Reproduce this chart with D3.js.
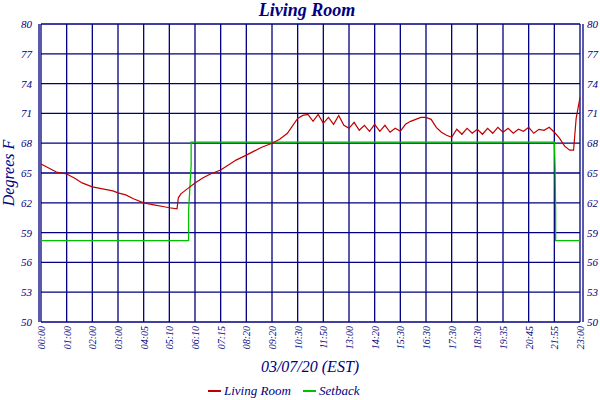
<!DOCTYPE html>
<html><head><meta charset="utf-8">
<script src="https://cdn.jsdelivr.net/npm/d3@7"></script>
<style>body{margin:0;background:#fff}text{font-family:"Liberation Serif",serif;font-style:italic;fill:#000080}</style>
</head><body><div id="chart"></div>
<script>
// x tick labels, one per grid interval
const timeLabels = ["00:00","01:00","02:00","03:00","04:05","05:10","06:10","07:15","08:20","09:20","10:30",
  "11:50","13:00","14:20","15:30","16:30","17:30","18:30","19:35","20:45","21:55","23:00"];
const yTicks = [50,53,56,59,62,65,68,71,74,77,80];

// Living Room temperature, x in grid intervals
const roomX = [0,0.3,0.6,1,1.3,1.6,2,2.4,2.8,3,3.3,3.6,4,4.4,4.8,5,5.3,5.35,5.45,5.7,6,6.3,6.6,7,7.3,7.6,8,8.3,8.6,9,9.3,9.6,
  10,10.2,10.4,10.6,10.8,11,11.2,11.4,11.6,11.8,12,12.2,12.4,12.6,12.8,13,13.2,13.4,13.6,13.8,
  14,14.2,14.4,14.6,14.8,15,15.2,15.4,15.6,15.8,16,16.2,16.4,16.6,16.8,17,17.2,17.4,17.6,17.8,
  18,18.2,18.4,18.6,18.8,19,19.2,19.4,19.6,19.8,20,20.2,20.4,20.6,20.75,20.85,21];
const roomT = [65.9,65.5,65.1,64.9,64.5,64.0,63.6,63.4,63.2,63.0,62.8,62.4,62.0,61.8,61.6,61.5,61.4,62.5,62.9,63.4,64.0,64.5,64.9,65.3,65.8,66.3,66.8,67.2,67.6,68.0,68.4,69.0,
  70.5,70.8,70.9,70.2,70.9,70.0,70.6,69.9,70.8,69.8,69.5,70.1,69.3,69.8,69.2,69.9,69.2,69.8,69.1,69.5,
  69.2,69.9,70.2,70.4,70.6,70.6,70.4,69.6,69.1,68.8,68.6,69.4,68.9,69.5,69.0,69.4,68.9,69.5,69.0,69.6,
  69.1,69.5,69.0,69.4,69.2,69.6,69.0,69.4,69.3,69.6,69.1,68.5,67.7,67.3,67.3,70.5,72.6];

// Setback, stepped
const setX = [0,5.75,5.75,5.85,5.85,20,20.03,20.05,20.05,21];
const setT = [58.2,58.2,61.2,65.8,68.1,68.1,65.5,61.0,58.2,58.2];

const W = 600, H = 400, m = {l:41, r:20, t:24, b:78};
const svg = d3.select("#chart").append("svg").attr("width", W).attr("height", H);
const x = d3.scaleLinear().domain([0, timeLabels.length - 1]).range([m.l, W - m.r]);
const y = d3.scaleLinear().domain([50, 80]).range([H - m.b, m.t]);
const navy = "#000080";

svg.append("text").attr("x", 307).attr("y", 16).attr("text-anchor", "middle")
  .style("font-size", "18px").style("font-weight", "bold").text("Living Room");

const grid = svg.append("g").attr("stroke", navy).attr("stroke-width", 1.3);
timeLabels.forEach((d, i) => grid.append("line").attr("x1", x(i)).attr("x2", x(i)).attr("y1", y(80)).attr("y2", y(50)));
yTicks.forEach(v => grid.append("line").attr("x1", x(0)).attr("x2", x(21)).attr("y1", y(v)).attr("y2", y(v)));
grid.append("line").attr("x1", x(0) - 2).attr("x2", x(0) - 2).attr("y1", y(80)).attr("y2", y(50));
grid.append("line").attr("x1", x(21) + 3).attr("x2", x(21) + 3).attr("y1", y(80)).attr("y2", y(50));

yTicks.forEach(v => {
  svg.append("text").attr("x", 32).attr("y", y(v) + 4).attr("text-anchor", "end").style("font-size", "11px").text(v);
  svg.append("text").attr("x", 587).attr("y", y(v) + 4).style("font-size", "11px").text(v);
});
timeLabels.forEach((d, i) => {
  svg.append("text").attr("transform", `translate(${x(i) + 4},${y(50) + 4}) rotate(-90)`)
    .attr("text-anchor", "end").style("font-size", "10px").text(d);
});

const line = d3.line().x(d => x(d[0])).y(d => y(d[1]));
svg.append("path").datum(setX.map((v, i) => [v, setT[i]])).attr("d", line)
  .attr("fill", "none").attr("stroke", "#00c000").attr("stroke-width", 1.3);
svg.append("path").datum(roomX.map((v, i) => [v, roomT[i]])).attr("d", line)
  .attr("fill", "none").attr("stroke", "#c00000").attr("stroke-width", 1.2);

svg.append("text").attr("transform", "translate(14,173) rotate(-90)").attr("text-anchor", "middle")
  .style("font-size", "16px").text("Degrees F");
svg.append("text").attr("x", 310).attr("y", 372).attr("text-anchor", "middle")
  .style("font-size", "16px").text("03/07/20 (EST)");

const leg = [["Living Room", "#c00000", 208], ["Setback", "#00c000", 303]];
leg.forEach(([t, c, lx]) => {
  svg.append("line").attr("x1", lx).attr("x2", lx + 13).attr("y1", 391).attr("y2", 391).attr("stroke", c).attr("stroke-width", 2);
  svg.append("text").attr("x", lx + 16).attr("y", 395).style("font-size", "13px").text(t);
});
</script></body></html>
